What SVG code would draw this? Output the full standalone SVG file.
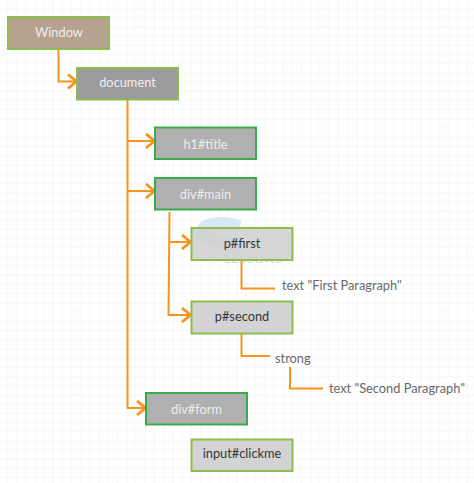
<svg xmlns="http://www.w3.org/2000/svg" width="474" height="483" viewBox="0 0 474 483">
<defs>
<pattern id="grid" width="46" height="46" patternUnits="userSpaceOnUse" x="-11.300" y="-19.300"><path d="M9.200 0V46M18.400 0V46M27.600 0V46M36.800 0V46M0 9.200H46M0 18.400H46M0 27.600H46M0 36.800H46" fill="none" stroke="#f6f6f6" stroke-width="1"/><path d="M46 0H0V46" fill="none" stroke="#f0f0f0" stroke-width="1"/></pattern>
<marker id="arrow" markerUnits="userSpaceOnUse" markerWidth="14" markerHeight="18" refX="12" refY="8" orient="auto"><path d="M3 1L11.500 8L3 15" fill="none" stroke="#f7941e" stroke-width="2.800"/></marker>
</defs>
<style>
.n{stroke-width:2}
.lt{stroke:#8fbc4e}
.dk{stroke:#3aaa4c}
text{font-family:Lato,"Liberation Sans",sans-serif;font-size:12.800px;text-anchor:middle}
.w{fill:#eeeeee}
.b{fill:#33383d}
.g{fill:#66696c;text-anchor:start}
.c{fill:none;stroke:#f7941e;stroke-width:2}
</style>
<rect width="474" height="483" fill="#fff"/>
<rect width="474" height="483" fill="url(#grid)"/>
<g id="watermark">
<path d="M240 226C222 221 203 222 202 232C201 243 236 238 240 252" fill="none" stroke="#d9e9f3" stroke-width="12"/>
<text x="253.500" y="263" style="font-size:12px;fill:#d2d5d8;letter-spacing:1px">LESSONS</text>
</g>
<g id="connectors">
<path class="c" d="M58.500 49V81.500H77" marker-end="url(#arrow)"/>
<path class="c" d="M127.500 99V408H146" marker-end="url(#arrow)"/>
<path class="c" d="M127.500 141H155" marker-end="url(#arrow)"/>
<path class="c" d="M127.500 191H155" marker-end="url(#arrow)"/>
<path class="c" d="M169.500 212L168.500 315H191" marker-end="url(#arrow)"/>
<path class="c" d="M169 242H191" marker-end="url(#arrow)"/>
<path class="c" d="M241.500 260V288.500H275"/>
<path class="c" d="M241.500 333V356H270"/>
<path class="c" d="M290 367V388.500H323"/>
</g>
<g id="window"><rect class="n lt" x="8" y="17" width="101" height="32" fill="#b6a28e"/><text class="w" x="59" y="36.500">Window</text></g>
<g id="document"><rect class="n lt" x="77" y="68" width="101" height="31.500" fill="#9b9b9d"/><text class="w" x="127.500" y="87">document</text></g>
<g id="h1title"><rect class="n dk" x="155" y="127.500" width="101" height="31.500" fill="#b0b0b0"/><text class="w" x="205.500" y="149">h1#title</text></g>
<g id="divmain"><rect class="n dk" x="155" y="178" width="101" height="31.500" fill="#b0b0b0"/><text class="w" x="205.500" y="199">div#main</text></g>
<g id="pfirst"><rect class="n lt" x="191.500" y="228" width="101" height="32" fill="#cfcfcf" fill-opacity=".85"/><text class="b" x="242" y="248">p#first</text></g>
<g id="psecond"><rect class="n lt" x="191.500" y="301.500" width="101" height="32" fill="#d3d3d3"/><text class="b" x="242" y="321">p#second</text></g>
<g id="textfirst"><text class="g" x="282" y="290">text "First Paragraph"</text></g>
<g id="strong"><text class="g" x="275" y="363">strong</text></g>
<g id="textsecond"><text class="g" x="329" y="393">text "Second Paragraph"</text></g>
<g id="divform"><rect class="n dk" x="146" y="393" width="101" height="31.500" fill="#b0b0b0"/><text class="w" x="196.500" y="414">div#form</text></g>
<g id="inputclickme"><rect class="n lt" x="191.500" y="439.500" width="101" height="31.500" fill="#d3d3d3"/><text class="b" x="242" y="458">input#clickme</text></g>
</svg>
